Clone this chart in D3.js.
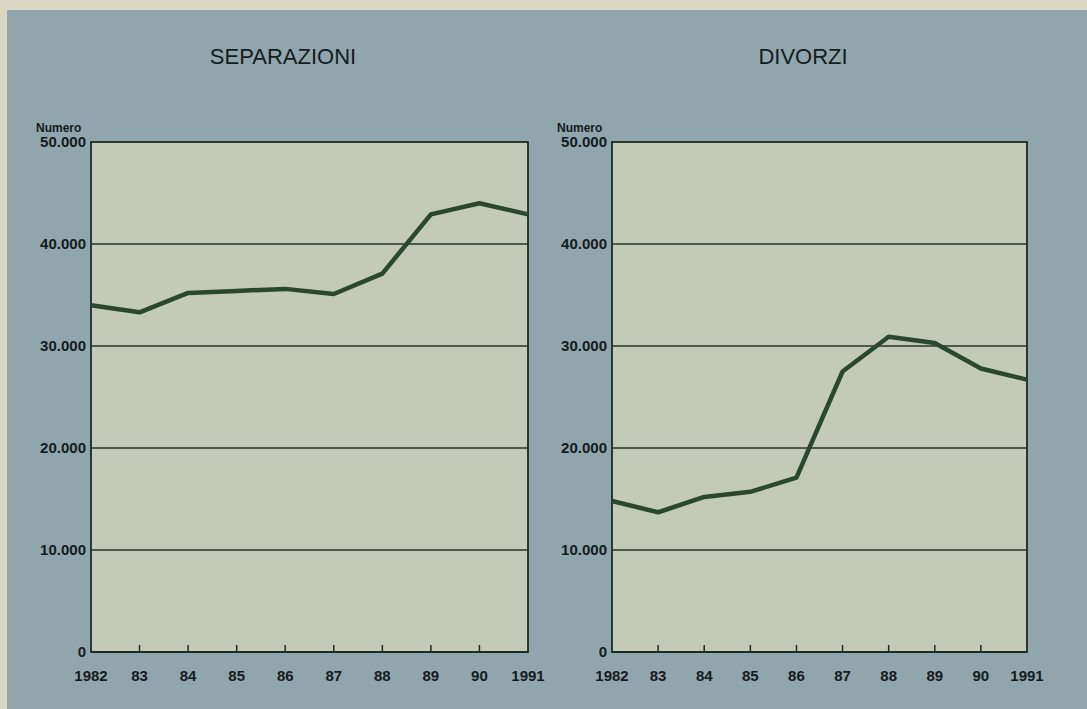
<!DOCTYPE html>
<html>
<head>
<meta charset="utf-8">
<script src="https://cdn.jsdelivr.net/npm/d3@7"></script>
<style>
  body { margin: 0; background: #d9d6c4; }
  svg { display: block; }
  text { font-family: "Liberation Sans", Arial, sans-serif; fill: #161b1c; }
</style>
</head>
<body>
<div id="main_view"></div>
<script>
// data
var years = [1982, 1983, 1984, 1985, 1986, 1987, 1988, 1989, 1990, 1991];
var yearLabels = ["1982", "83", "84", "85", "86", "87", "88", "89", "90", "1991"];
var separazioni = [34000, 33300, 35200, 35400, 35600, 35100, 37100, 42900, 44000, 42900];
var divorzi = [14800, 13700, 15200, 15700, 17100, 27500, 30900, 30300, 27800, 26700];
var yTicks = [0, 10000, 20000, 30000, 40000, 50000];
var titles = ["SEPARAZIONI", "DIVORZI"];

var W = 1087, H = 709;

var svg = d3.select("#main_view").append("svg")
    .attr("width", W)
    .attr("height", H);

// blue-grey card over a beige page edge
svg.append("rect")
    .attr("x", 7).attr("y", 10)
    .attr("width", W - 7).attr("height", H - 10)
    .attr("fill", "#90a5ac");

var fmt = function(d) { return d3.format(",")(d).replace(/,/g, "."); };

function panel(left, right, titleX, title, values) {
  var top = 142, bottom = 652;

  var xScale = d3.scaleLinear().domain([1982, 1991]).range([left, right]);
  var yScale = d3.scaleLinear().domain([0, 50000]).range([bottom, top]);

  var g = svg.append("g");

  g.append("rect")
      .attr("x", left).attr("y", top)
      .attr("width", right - left).attr("height", bottom - top)
      .attr("fill", "#c3cab7");

  // grid lines
  g.selectAll(".grid")
      .data(yTicks.filter(function(d) { return d > 0 && d < 50000; }))
    .enter().append("line")
      .attr("x1", left).attr("x2", right)
      .attr("y1", function(d) { return yScale(d); })
      .attr("y2", function(d) { return yScale(d); })
      .attr("stroke", "#26332a")
      .attr("stroke-width", 1.6);

  // frame
  g.append("rect")
      .attr("x", left).attr("y", top)
      .attr("width", right - left).attr("height", bottom - top)
      .attr("fill", "none")
      .attr("stroke", "#1f2a24")
      .attr("stroke-width", 1.8);

  g.append("line")
      .attr("x1", left).attr("x2", right)
      .attr("y1", bottom).attr("y2", bottom)
      .attr("stroke", "#1f2a24")
      .attr("stroke-width", 2.2);

  // small inner ticks on the x axis
  g.selectAll(".tick")
      .data(years.slice(1, -1))
    .enter().append("line")
      .attr("x1", function(d) { return xScale(d); })
      .attr("x2", function(d) { return xScale(d); })
      .attr("y1", bottom).attr("y2", bottom - 7)
      .attr("stroke", "#1f2a24")
      .attr("stroke-width", 1.5);

  // y labels
  g.selectAll(".ylab")
      .data(yTicks)
    .enter().append("text")
      .attr("x", left - 5)
      .attr("y", function(d) { return yScale(d); })
      .attr("dy", "0.36em")
      .attr("text-anchor", "end")
      .style("font-size", "15px")
      .style("font-weight", "bold")
      .text(fmt);

  // x labels
  g.selectAll(".xlab")
      .data(years)
    .enter().append("text")
      .attr("x", function(d) { return xScale(d); })
      .attr("y", bottom + 29)
      .attr("text-anchor", "middle")
      .style("font-size", "15px")
      .style("font-weight", "bold")
      .text(function(d, i) { return yearLabels[i]; });

  g.append("text")
      .attr("x", left - 55)
      .attr("y", 132)
      .style("font-size", "12px")
      .style("font-weight", "bold")
      .text("Numero");

  g.append("text")
      .attr("x", titleX)
      .attr("y", 64)
      .attr("text-anchor", "middle")
      .style("font-size", "22px")
      .text(title);

  var line = d3.line()
      .x(function(d, i) { return xScale(years[i]); })
      .y(function(d) { return yScale(d); });

  g.append("path")
      .datum(values)
      .attr("fill", "none")
      .attr("stroke", "#2b482e")
      .attr("stroke-width", 4.5)
      .attr("stroke-linejoin", "round")
      .attr("d", line);
}

panel(91, 528, 283, titles[0], separazioni);
panel(612, 1027, 803, titles[1], divorzi);
</script>
</body>
</html>
